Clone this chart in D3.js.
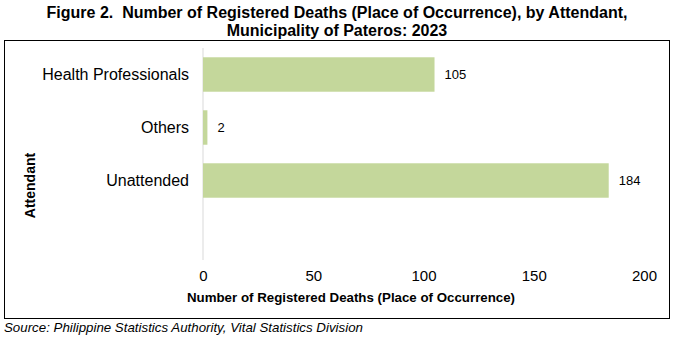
<!DOCTYPE html>
<html><head><meta charset="utf-8">
<script src="https://cdn.jsdelivr.net/npm/d3@7"></script>
<style>
body{margin:0;background:#fff;}
svg text{font-family:"Liberation Sans",Arial,sans-serif;fill:#000;white-space:pre;}
</style></head>
<body><svg id="c" width="674" height="338"></svg>
<script>
const titleLines = ["Figure 2.  Number of Registered Deaths (Place of Occurrence), by Attendant,", "Municipality of Pateros: 2023"];
const categories = ["Health Professionals", "Others", "Unattended", ""];
const values = [105, 2, 184, null];
const xTicks = [0, 50, 100, 150, 200];
const xTitle = "Number of Registered Deaths (Place of Occurrence)";
const yTitle = "Attendant";
const source = "Source: Philippine Statistics Authority, Vital Statistics Division";

const svg = d3.select("#c");
svg.append("rect").attr("width",674).attr("height",338).attr("fill","#fff");
svg.append("rect").attr("x",4.5).attr("y",40.5).attr("width",665).attr("height",278)
  .attr("fill","none").attr("stroke","#000").attr("stroke-width",1);

svg.selectAll("text.title").data(titleLines).enter().append("text")
  .attr("x",337).attr("y",(d,i)=>18+i*18).attr("text-anchor","middle")
  .attr("xml:space","preserve")
  .style("font-weight","bold").style("font-size","16px").text(d=>d);

const x = d3.scaleLinear().domain([0,200]).range([203,644]);
const y = d3.scaleBand().domain(categories).range([48,260]).paddingInner(0.35).paddingOuter(0.175);

svg.append("line").attr("x1",x(0)).attr("x2",x(0)).attr("y1",48).attr("y2",260)
  .attr("stroke","#d9d9d9").attr("stroke-width",1);

const data = categories.map((c,i)=>({c, v: values[i]})).filter(d=>d.v!=null);
svg.selectAll("rect.bar").data(data).enter().append("rect")
  .attr("x",x(0)).attr("y",d=>y(d.c)).attr("width",d=>x(d.v)-x(0)).attr("height",y.bandwidth())
  .attr("fill","#c4d79b");
svg.selectAll("text.val").data(data).enter().append("text")
  .attr("x",d=>x(d.v)+10).attr("y",d=>y(d.c)+y.bandwidth()/2).attr("dy","0.35em")
  .style("font-size","13px").text(d=>d.v);

svg.selectAll("text.cat").data(categories).enter().append("text")
  .attr("x",189).attr("y",d=>y(d)+y.bandwidth()/2).attr("dy","0.35em").attr("text-anchor","end")
  .style("font-size","16px").text(d=>d);

const xa = d3.axisBottom(x).tickValues(xTicks).tickSize(0).tickPadding(0);
const g = svg.append("g").attr("transform","translate(0,270)").call(xa);
g.select(".domain").remove();
g.selectAll("text").attr("dy","0.71em").style("font-size","15px").style("font-family",null);

svg.append("text").attr("x",351).attr("y",302).attr("text-anchor","middle")
  .style("font-weight","bold").style("font-size","13.3px").text(xTitle);
svg.append("text").attr("transform","translate(35,185.5) rotate(-90)").attr("text-anchor","middle")
  .style("font-weight","bold").style("font-size","14px").text(yTitle);
svg.append("text").attr("x",4).attr("y",332).style("font-style","italic").style("font-size","13.3px").text(source);
</script></body></html>
